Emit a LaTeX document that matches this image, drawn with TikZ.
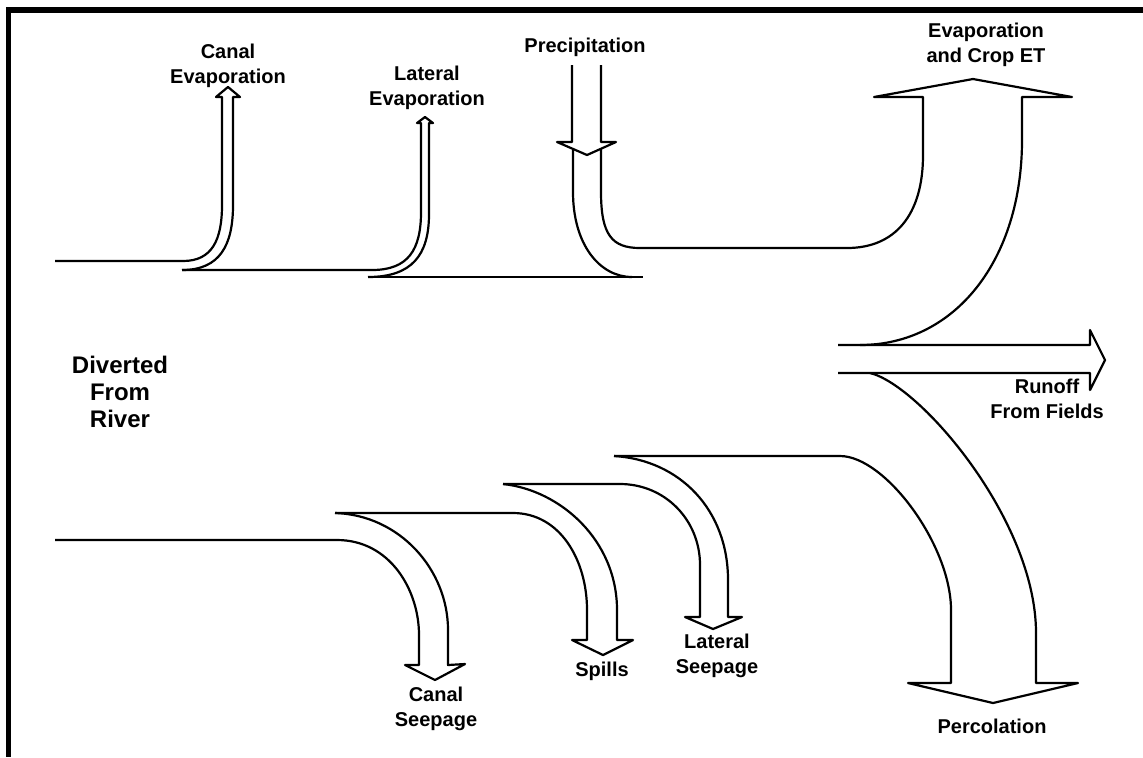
\documentclass[tikz,border=0pt]{standalone}
\usepackage{fontspec}
\setmainfont{Liberation Sans}
\usepackage{tikz}

\begin{document}
\begin{tikzpicture}[x=0.5pt,y=-0.5pt,
    flow/.style={line width=1.1pt,line join=round},
    lbl/.style={font=\bfseries\fontsize{10}{12.5}\selectfont,align=center,inner sep=0pt}]
  \useasboundingbox (0,0) rectangle (1143,757);
  \draw[line width=2.8pt,line join=miter] (1143,10) -- (8.5,10) -- (8.5,757);
  % upper channel
  \draw[flow] (55,261) -- (183,261) .. controls (212,261) and (222,240) .. (222,205)
    -- (222,97) -- (216,97) -- (228,87) -- (240,97) -- (233,97) -- (233,205)
    .. controls (233,245) and (220,270) .. (182,270);
  \draw[flow] (182,270) -- (372,270) .. controls (408,270) and (421,250) .. (421,212)
    -- (421,123) -- (417,123) -- (425,117) -- (433,123) -- (429,123) -- (429,214)
    .. controls (429,255) and (412,277) .. (368,277);
  \draw[flow] (368,277) -- (643,277);
  \draw[flow] (572,65) -- (572,142) -- (557,142) -- (587,155) -- (616,142) -- (601,142) -- (601,65);
  \draw[flow] (573,149) -- (573,192) .. controls (573,245) and (600,277) .. (632,277);
  \draw[flow] (601,149) -- (601,192) .. controls (601,235) and (612,248) .. (640,248) -- (847,248)
    .. controls (895,248) and (923,215) .. (923,155) -- (923,97) -- (874,97) -- (973,79)
    -- (1072,97) -- (1022,97) -- (1022,140) .. controls (1022,260) and (955,345) .. (860,345);
  \draw[flow] (838,345) -- (1090,345) -- (1090,330) -- (1105,360) -- (1090,390) -- (1090,373) -- (838,373);
  % lower channel
  \draw[flow] (870,373) .. controls (920,385) and (1036,520) .. (1036,633) -- (1036,683)
    -- (1078,683) -- (993,703) -- (908,683) -- (951,683) -- (951,610)
    .. controls (951,545) and (885,456) .. (840,456) -- (614,456);
  \draw[flow] (614,456) .. controls (680,460) and (728,510) .. (728,580) -- (728,617)
    -- (742,617) -- (713,629) -- (685,617) -- (700,617) -- (700,565)
    .. controls (700,520) and (665,484) .. (620,484) -- (503,484);
  \draw[flow] (503,484) .. controls (560,490) and (617,540) .. (617,610) -- (617,640)
    -- (633,640) -- (603,655) -- (572,640) -- (587,640) -- (587,610)
    .. controls (587,560) and (560,513) .. (513,513) -- (335,513);
  \draw[flow] (335,513) .. controls (400,515) and (448,570) .. (448,630) -- (448,665)
    -- (465,664) -- (435,680) -- (405,665) -- (419,665) -- (419,635)
    .. controls (419,590) and (390,540) .. (337,540) -- (55,540);
  % labels
  \node[lbl] (canalevap) at (228,66) {Canal\\Evaporation};
  \node[lbl] (latevap) at (427,88) {Lateral\\Evaporation};
  \node[lbl] (precip) at (585,47) {Precipitation};
  \node[lbl] (cropet) at (986,45) {Evaporation\\and Crop ET};
  \node[lbl,font=\bfseries\fontsize{12}{13.5}\selectfont] (river) at (120,392) {Diverted\\From\\River};
  \node[lbl] (runoff) at (1047,399) {Runoff\\From Fields};
  \node[lbl] (perc) at (992,726) {Percolation};
  \node[lbl] (canalseep) at (436,709) {Canal\\Seepage};
  \node[lbl] (spills) at (602,671) {Spills};
  \node[lbl] (latseep) at (717,656) {Lateral\\Seepage};
\end{tikzpicture}
\end{document}
